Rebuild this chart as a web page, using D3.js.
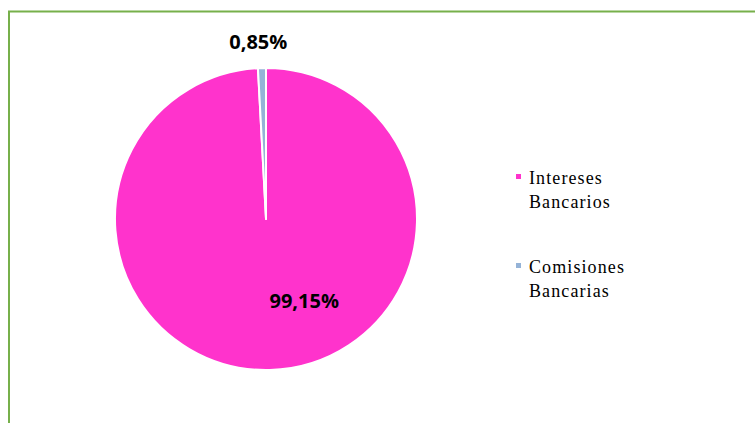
<!DOCTYPE html>
<html lang="es">
<head>
    <meta charset="utf-8">
    <title>Intereses y comisiones bancarias</title>
    <style>
        html,
        body {
            margin: 0;
            padding: 0;
            background: #fff;
        }
        /* the slice labels */
        .pct {
            font-family: "Open Sans", "Liberation Sans", sans-serif;
            font-weight: bold;
            font-size: 20px;
            fill: #000;
        }
        /* legend text is times-like and a bit wide in the source */
        .leg {
            font-family: "Liberation Serif", "Times New Roman", serif;
            font-size: 18px;
            letter-spacing: 1.1px;
            fill: #000;
        }
    </style>
    <script src="https://d3js.org/d3.v7.min.js"></script>
</head>
<body>
    <div id="chart"></div>
    <script>
        // data
        var categories = ["Intereses Bancarios", "Comisiones Bancarias"];
        var shares = [99.15, 0.85];
        var labels = ["99,15%", "0,85%"];
        var legendLines = [["Intereses", "Bancarios"], ["Comisiones", "Bancarias"]];
        var colors = ["#ff33cc", "#95b3d7"];

        var width = 755,
            height = 423;

        var svg = d3.select("#chart").append("svg")
            .attr("width", width)
            .attr("height", height);

        // green frame, only top and left show in the picture
        svg.append("path")
            .attr("d", "M9," + height + "V11.5H" + width)
            .attr("fill", "none")
            .attr("stroke", "#77b04b")
            .attr("stroke-width", 2);

        var cx = 266,
            cy = 219,
            radius = 151;

        var color = d3.scaleOrdinal().domain(categories).range(colors);

        var pie = d3.pie().sort(null);
        var arcs = pie(shares);

        var arc = d3.arc().innerRadius(0).outerRadius(radius);

        var g = svg.append("g")
            .attr("transform", "translate(" + cx + "," + cy + ")");

        g.selectAll("path")
            .data(arcs)
            .enter().append("path")
            .attr("d", arc)
            .attr("fill", function(d, i) {
                return color(categories[i]);
            })
            .attr("stroke", "#fff")
            .attr("stroke-width", 2)
            .attr("stroke-linejoin", "round");

        // label positions: big one inside (nudged right like excel did), small one outside above
        var inside = d3.arc().innerRadius(radius * 0.54).outerRadius(radius * 0.54);
        var outside = d3.arc().innerRadius(radius + 26).outerRadius(radius + 26);
        var nudge = [[36, 0], [-3, 0]];

        g.selectAll("text.pct")
            .data(arcs)
            .enter().append("text")
            .attr("class", "pct")
            .attr("text-anchor", "middle")
            .attr("transform", function(d, i) {
                var p = i == 0 ? inside.centroid(d) : outside.centroid(d);
                return "translate(" + (p[0] + nudge[i][0]) + "," + (p[1] + nudge[i][1]) + ")";
            })
            .attr("dy", "0.35em")
            .text(function(d, i) {
                return labels[i];
            });

        // legend
        var legend = svg.append("g")
            .attr("transform", "translate(516,0)");

        var item = legend.selectAll("g")
            .data(categories)
            .enter().append("g")
            .attr("transform", function(d, i) {
                return "translate(0," + (184 + i * 89) + ")";
            });

        item.append("rect")
            .attr("x", 0)
            .attr("y", -10)
            .attr("width", 5)
            .attr("height", 5)
            .attr("fill", function(d) {
                return color(d);
            });

        item.append("text")
            .attr("class", "leg")
            .attr("x", 13)
            .selectAll("tspan")
            .data(function(d, i) {
                return legendLines[i];
            })
            .enter().append("tspan")
            .attr("x", 13)
            .attr("dy", function(d, j) {
                return j == 0 ? 0 : 23.5;
            })
            .text(function(d) {
                return d;
            });
    </script>
</body>
</html>
